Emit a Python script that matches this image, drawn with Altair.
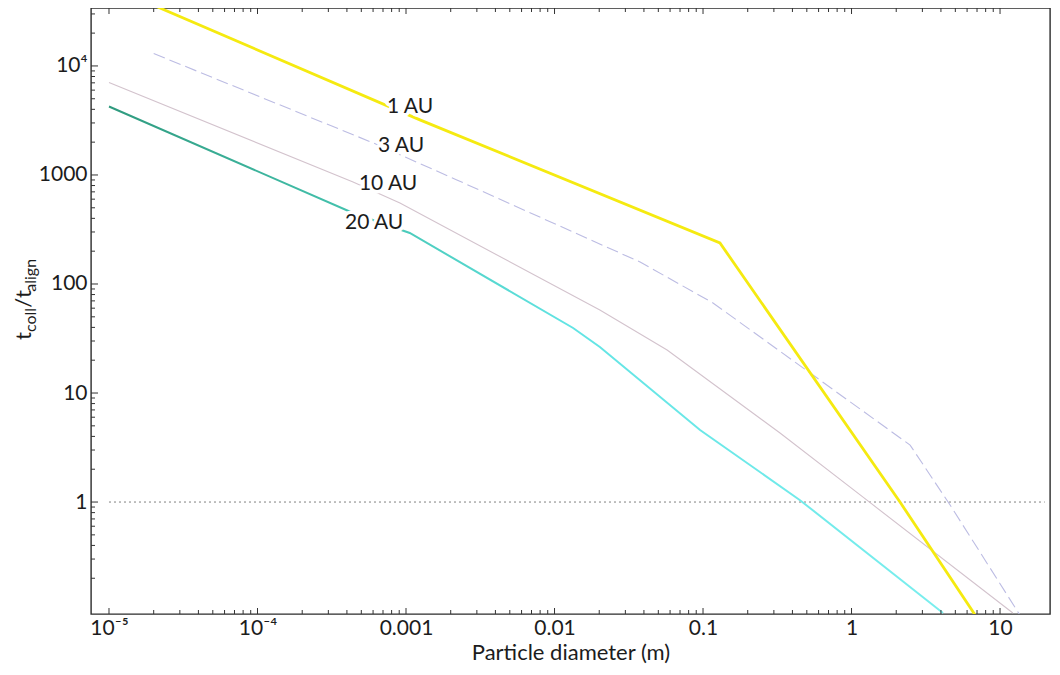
import math
import altair as alt
import pandas as pd

# ---------------- data ----------------
# particle diameter (m) vs t_coll / t_align
au1_x = [2.0e-5, 1.24e-3, 0.130, 2.12, 6.8]
au1_y = [36000, 3200, 238, 1.0, 0.092]

au3_x = [2.0e-5, 6.0e-4, 2.2e-3, 0.0377, 0.1167, 2.48, 4.61, 13.6]
au3_y = [13000, 1970, 900, 159, 67, 3.33, 0.94, 0.092]

au10_x = [1.0e-5, 4.4e-4, 9.1e-4, 0.0202, 0.0573, 0.330, 1.27, 12.2]
au10_y = [7060, 863, 553, 57.7, 24.8, 4.30, 1.04, 0.096]

au20_x = [1.0e-5, 4.4e-4, 1.06e-3, 0.01334, 0.0202, 0.0955, 0.450, 4.13]
au20_y = [4245, 448, 294, 39.5, 26.4, 4.58, 1.04, 0.096]

ref_x = [1.0e-5, 20.0]
ref_y = [1.0, 1.0]

label_text = ["1 AU", "3 AU", "10 AU", "20 AU"]
label_x = [1.064e-3, 9.25e-4, 7.57e-4, 6.1e-4]
label_y = [4207, 1845, 827, 363]

x_major = [1e-5, 1e-4, 1e-3, 1e-2, 1e-1, 1, 10]
x_major_labels = ["10⁻⁵", "10⁻⁴", "0.001", "0.01", "0.1", "1", "10"]
y_major = [1, 10, 100, 1000, 10000]
y_major_labels = ["1", "10", "100", "1000", "10⁴"]

x_domain = [7.565e-6, 21.7]
y_domain = [0.094, 34000]

W, H = 959, 606
FONT = "Lato"
INK = "#1c1c1c"

x_minor = [m * 10.0 ** e for e in range(-5, 2) for m in range(2, 10)
           if x_domain[0] <= m * 10.0 ** e <= 10]
y_minor = [m * 10.0 ** e for e in range(-1, 5) for m in range(2, 10)
           if y_domain[0] <= m * 10.0 ** e <= y_domain[1]]


def label_expr(values, labels):
    expr = "''"
    for v, lab in reversed(list(zip(values, labels))):
        e = math.log10(v)
        expr = f"(abs(log(datum.value)/LN10 - ({e:.4f})) < 0.01 ? '{lab}' : {expr})"
    return expr


xscale = alt.Scale(type="log", domain=x_domain, nice=False)
yscale = alt.Scale(type="log", domain=y_domain, nice=False)

xaxis = alt.Axis(values=x_major, labelExpr=label_expr(x_major, x_major_labels),
                 ticks=False, domain=False, grid=False, labelFont=FONT,
                 labelFontSize=21, labelPadding=3, labelFlush=False,
                 labelColor=INK, labelOverlap=False,
                 title="Particle diameter (m)", titleFont=FONT, titleFontSize=22,
                 titleFontWeight="normal", titleColor=INK, titleX=W / 2, titleY=45,
                 titleAlign="center", titleBaseline="alphabetic")
yaxis = alt.Axis(values=y_major, labelExpr=label_expr(y_major, y_major_labels),
                 ticks=False, domain=False, grid=False, labelFont=FONT,
                 labelFontSize=21, labelPadding=4, labelColor=INK,
                 labelOverlap=False, title=None)

xenc = alt.X("d:Q", scale=xscale, axis=xaxis)
yenc = alt.Y("r:Q", scale=yscale, axis=yaxis)


def series(xs, ys, **mark):
    df = pd.DataFrame({"d": xs, "r": ys})
    return alt.Chart(df).mark_line(clip=True, **mark).encode(x=xenc, y=yenc)


layers = []
layers.append(series(ref_x, ref_y, color="#707070", strokeWidth=0.9, strokeDash=[2, 3]))
layers.append(series(au10_x, au10_y, color="#d3c3cd", strokeWidth=1.1))
layers.append(series(au3_x, au3_y, color="#bcbce3", strokeWidth=1.1, strokeDash=[12, 5]))
grad20 = alt.LinearGradient(
    gradient="linear",
    stops=[alt.GradientStop(color="#2f9a7e", offset=0),
           alt.GradientStop(color="#45c4b0", offset=0.3),
           alt.GradientStop(color="#62e4e4", offset=0.55),
           alt.GradientStop(color="#7aeeee", offset=1)],
    x1=0, x2=1, y1=0, y2=0)
layers.append(series(au20_x, au20_y, color=grad20, strokeWidth=2))
layers.append(series(au1_x, au1_y, color="#f5ea10", strokeWidth=2.8))

# inward tick marks (bottom, top, left)
def xticks(vals, length):
    df = pd.DataFrame({"d": vals})
    bottom = alt.Chart(df).mark_rule(color="#333", strokeWidth=1).encode(
        x=xenc, y=alt.value(H), y2=alt.value(H - length))
    top = alt.Chart(df).mark_rule(color="#333", strokeWidth=1).encode(
        x=xenc, y=alt.value(0), y2=alt.value(length))
    return [bottom, top]


def yticks(vals, length):
    df = pd.DataFrame({"r": vals})
    return [alt.Chart(df).mark_rule(color="#333", strokeWidth=1).encode(
        y=yenc, x=alt.value(0), x2=alt.value(length))]


layers += xticks(x_major, 6) + xticks(x_minor, 4)
layers += yticks(y_major, 7) + yticks(y_minor, 4)

# series labels, with a white halo that hides the line behind them
lab_df = pd.DataFrame({"d": label_x, "r": label_y, "t": label_text})
layers.append(alt.Chart(lab_df).mark_text(
    font=FONT, fontSize=21, align="center", baseline="middle",
    fill="white", stroke="white", strokeWidth=7, strokeJoin="round").encode(
    x=xenc, y=yenc, text="t:N"))
layers.append(alt.Chart(lab_df).mark_text(
    font=FONT, fontSize=21, align="center", baseline="middle", color=INK).encode(
    x=xenc, y=yenc, text="t:N"))

# y-axis title t_coll / t_align built from pieces (rotated)
title_pieces = [("t", 22, -60, 332), ("coll", 16, -55, 324.1),
                ("/t", 22, -60, 299.8), ("align", 16, -55, 283.7)]
for txt, size, px, py in title_pieces:
    layers.append(alt.Chart(pd.DataFrame({"t": [txt]})).mark_text(
        font=FONT, fontSize=size, angle=270, align="left",
        baseline="alphabetic", color=INK).encode(
        text="t:N", x=alt.value(px), y=alt.value(py)))

chart = alt.layer(*layers).properties(
    width=W, height=H,
    autosize=alt.AutoSizeParams(type="none"),
    padding={"left": 83, "top": 0, "right": 1, "bottom": 50},
    background="white",
).configure_view(stroke="#2b2b2b", strokeWidth=1.4)

chart.save("out.html", embed_options={"renderer": "svg", "actions": False})
